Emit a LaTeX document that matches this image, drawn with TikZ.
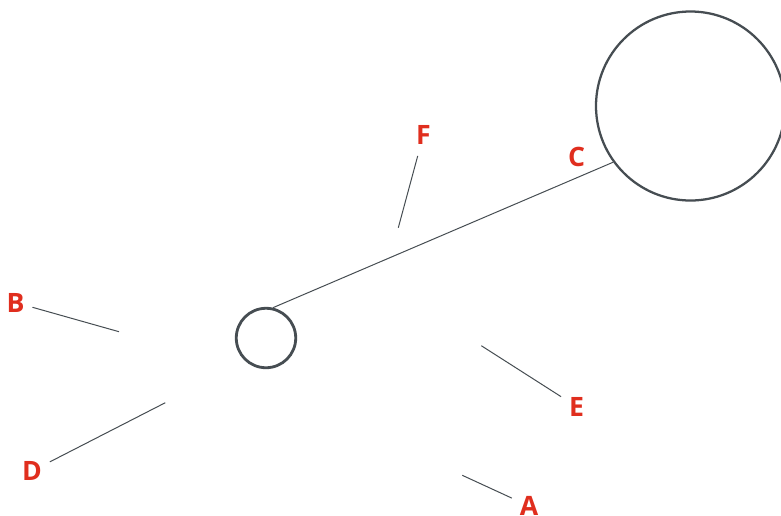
\documentclass[tikz,border=0pt]{standalone}
\usepackage{fontspec}
\setmainfont{Open Sans}
\usepackage{tikz}
\definecolor{lineGray}{RGB}{70, 77, 82}
\definecolor{labelRed}{RGB}{224, 46, 30}
\usetikzlibrary{positioning}

\begin{document}
\begin{tikzpicture}[
    x=0.75pt, y=-0.75pt,
    part/.style={circle, draw=lineGray, inner sep=0pt, minimum size=#1},
    tag/.style={text=labelRed, font=\bfseries\fontsize{20}{20}\selectfont, inner sep=0pt, outer sep=6pt},
    leader/.style={draw=lineGray, line width=0.75pt}
]
    \useasboundingbox (0,0) rectangle (781,515);

    % Circles
    \node[part=44.6pt, line width=2.1pt] (small) at (266,338) {};
    \node[part=141.75pt, line width=1.7pt] (large) at (690.5,106) {};
    \draw[leader] (small.77) -- (large.216);

    % Labels
    \node[tag] (labA) at (529,506) {A};
    \node[tag] (labB) at (15.5,302.5) {B};
    \node[tag] (labC) at (576.5,156.5) {C};
    \node[tag] (labD) at (32,471) {D};
    \node[tag] (labE) at (576.5,406.5) {E};
    \node[tag] (labF) at (423.5,134.5) {F};

    % Leader ends
    \coordinate (tipA) at (462.3,475.3);
    \coordinate (tipB) at (119,331.7);
    \coordinate (tipD) at (165.3,402.7);
    \coordinate (tipE) at (481.3,345.7);
    \coordinate (tipF) at (398.3,227.7);

    % Leaders
    \draw[leader] (labA) -- (tipA);
    \draw[leader] (labB) -- (tipB);
    \draw[leader] (labD) -- (tipD);
    \draw[leader] (labE) -- (tipE);
    \draw[leader, shorten <=3pt] (labF) -- (tipF);
\end{tikzpicture}
\end{document}
